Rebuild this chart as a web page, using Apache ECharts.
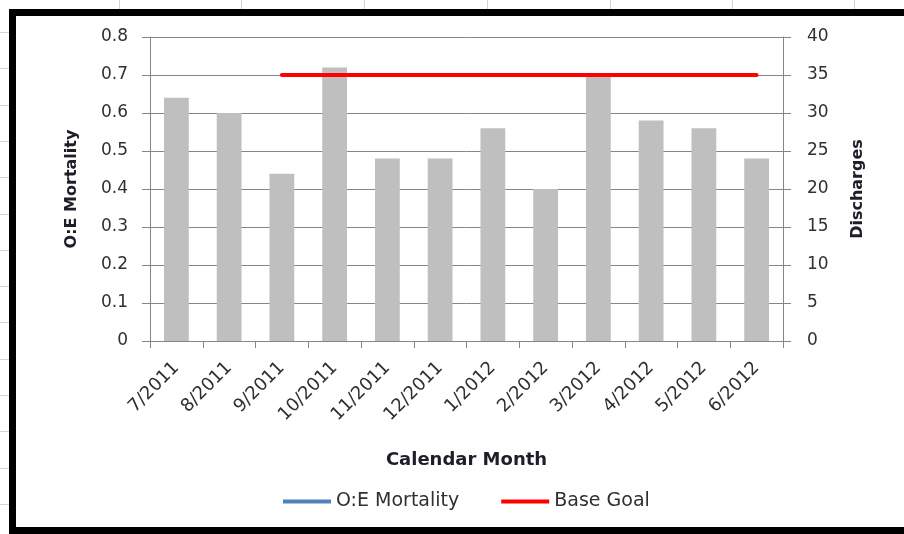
<!DOCTYPE html>
<html>
<head>
<meta charset="utf-8">
<script src="https://cdn.jsdelivr.net/npm/echarts@6/dist/echarts.min.js"></script>
<style>
  html, body { margin: 0; padding: 0; background: #fff; }
  #chart { width: 904px; height: 534px; }
</style>
</head>
<body>
<div id="chart"></div>
<script>
// Monthly discharges with the O:E mortality ratio and its base goal
const months = ['7/2011', '8/2011', '9/2011', '10/2011', '11/2011', '12/2011',
                '1/2012', '2/2012', '3/2012', '4/2012', '5/2012', '6/2012'];
const discharges = [32, 30, 22, 36, 24, 24, 28, 20, 35, 29, 28, 24];
const oeMortality = [null, null, null, null, null, null, null, null, null, null, null, null];
const baseGoal = [null, null, 0.7, 0.7, 0.7, 0.7, 0.7, 0.7, 0.7, 0.7, 0.7, 0.7];
const leftTicks = { min: 0, max: 0.8, step: 0.1 };
const rightTicks = { min: 0, max: 40, step: 5 };

const FONT = 'DejaVu Sans';
const AXIS_GRAY = '#868686';
const TEXT = '#303030';
const TITLE = '#1e1e2a';

// worksheet cell lines around the embedded chart
const sheetLines = [];
[119, 241, 364, 487, 610, 732, 854].forEach(x => {
  sheetLines.push({ type: 'line', silent: true,
    shape: { x1: x + 0.5, y1: 0, x2: x + 0.5, y2: 9 },
    style: { stroke: '#d4d4d4', lineWidth: 1 } });
});
for (let y = 32; y < 534; y += 36.3) {
  const yy = Math.round(y) + 0.5;
  sheetLines.push({ type: 'line', silent: true,
    shape: { x1: 0, y1: yy, x2: 9, y2: yy },
    style: { stroke: '#d4d4d4', lineWidth: 1 } });
}

const chart = echarts.init(document.getElementById('chart'), null, { renderer: 'canvas' });
chart.setOption({
  backgroundColor: '#ffffff',
  animation: false,
  textStyle: { fontFamily: FONT },
  graphic: sheetLines.concat([{
    type: 'rect', silent: true,
    shape: { x: 12.5, y: 12.5, width: 920, height: 518 },
    style: { fill: 'none', stroke: '#000', lineWidth: 7 }
  }]),
  grid: { left: 150, right: 121, top: 37, bottom: 193, containLabel: false },
  legend: {
    data: ['O:E Mortality', 'Base Goal'],
    top: 492,
    left: 283,
    padding: 0,
    itemWidth: 48,
    itemHeight: 4,
    itemGap: 42,
    icon: 'rect',
    textStyle: { fontFamily: FONT, fontSize: 19, color: TEXT }
  },
  xAxis: {
    type: 'category',
    data: months,
    boundaryGap: true,
    name: 'Calendar Month',
    nameLocation: 'middle',
    nameGap: 110,
    nameTextStyle: { fontFamily: FONT, fontSize: 18, fontWeight: 'bold', color: TITLE },
    axisLine: { lineStyle: { color: AXIS_GRAY, width: 1 } },
    axisTick: { show: true, alignWithLabel: false, length: 7, lineStyle: { color: AXIS_GRAY } },
    axisLabel: { rotate: 45, margin: 24, fontSize: 18, color: TEXT, fontFamily: FONT, interval: 0 }
  },
  yAxis: [{
    type: 'value',
    min: leftTicks.min, max: leftTicks.max, interval: leftTicks.step,
    name: 'O:E Mortality',
    nameLocation: 'middle',
    nameRotate: 90,
    nameGap: 70,
    nameTextStyle: { fontFamily: FONT, fontSize: 16, fontWeight: 'bold', color: TITLE },
    axisLine: { show: true, lineStyle: { color: AXIS_GRAY } },
    axisTick: { show: true, length: 8, lineStyle: { color: AXIS_GRAY } },
    axisLabel: { margin: 22, fontSize: 17, color: TEXT, fontFamily: FONT,
      formatter: v => (Math.round(v * 10) / 10).toString() },
    splitLine: { show: true, lineStyle: { color: AXIS_GRAY, width: 1 } }
  }, {
    type: 'value',
    position: 'right',
    min: rightTicks.min, max: rightTicks.max, interval: rightTicks.step,
    name: 'Discharges',
    nameLocation: 'middle',
    nameRotate: 90,
    nameGap: 67,
    nameTextStyle: { fontFamily: FONT, fontSize: 16, fontWeight: 'bold', color: TITLE },
    axisLine: { show: true, lineStyle: { color: AXIS_GRAY } },
    axisTick: { show: true, length: 8, lineStyle: { color: AXIS_GRAY } },
    axisLabel: { margin: 24, fontSize: 17, color: TEXT, fontFamily: FONT },
    splitLine: { show: false }
  }],
  series: [{
    name: 'Discharges',
    type: 'bar',
    yAxisIndex: 1,
    data: discharges,
    barWidth: '47%',
    itemStyle: { color: '#bfbfbf' },
    z: 2
  }, {
    name: 'O:E Mortality',
    type: 'line',
    yAxisIndex: 0,
    data: oeMortality,
    showSymbol: false,
    itemStyle: { color: '#4f81bd' },
    lineStyle: { color: '#4f81bd', width: 3 },
    z: 3
  }, {
    name: 'Base Goal',
    type: 'line',
    yAxisIndex: 0,
    data: baseGoal,
    showSymbol: false,
    itemStyle: { color: '#ff0000' },
    lineStyle: { color: '#ff0000', width: 4, cap: 'round' },
    z: 4
  }]
});
</script>
</body>
</html>
